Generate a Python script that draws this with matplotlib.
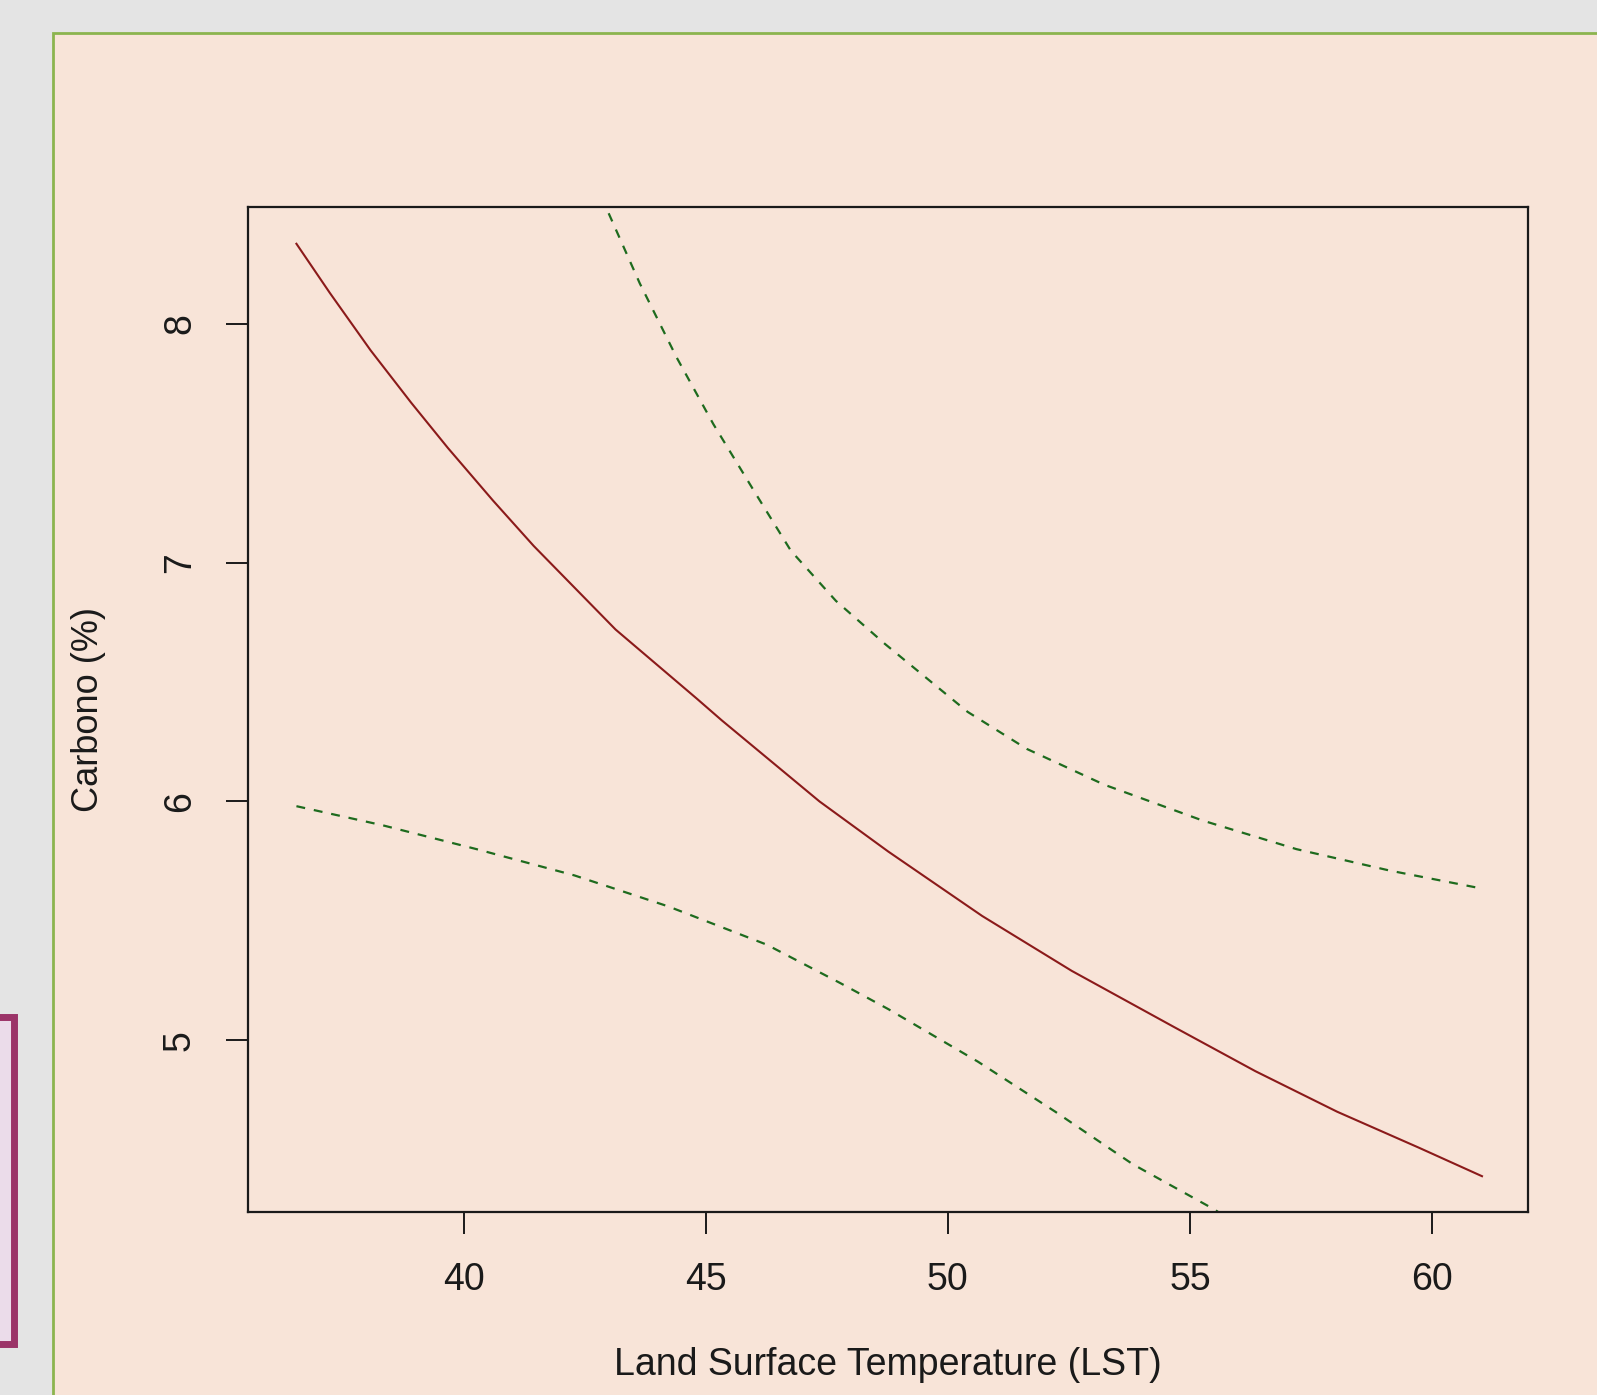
import numpy as np
import matplotlib.pyplot as plt
from matplotlib.patches import Rectangle

plt.rcParams['font.family'] = ['Liberation Sans', 'DejaVu Sans']

# fitted curve
fit_x = [36.55, 37.24, 38.08, 38.92, 39.68, 40.61, 41.45, 43.14, 44.82, 45.33,
         47.35, 48.77, 50.71, 52.56, 54.67, 56.35, 58.04, 59.72, 61.03]
fit_y = [8.336, 8.13, 7.89, 7.67, 7.48, 7.26, 7.07, 6.72, 6.43, 6.34,
         6.00, 5.79, 5.52, 5.29, 5.055, 4.87, 4.70, 4.55, 4.43]

# upper band
up_x = [42.70, 42.97, 43.64, 44.40, 45.16, 46.00, 46.76, 47.69, 48.70, 50.41,
        51.63, 53.23, 55.26, 57.20, 59.13, 60.90]
up_y = [8.60, 8.476, 8.17, 7.86, 7.58, 7.30, 7.05, 6.84, 6.66, 6.375,
        6.22, 6.07, 5.92, 5.80, 5.71, 5.64]

# lower band
lo_x = [36.55, 38.33, 40.27, 42.29, 44.23, 46.26, 47.77, 48.77, 50.62, 52.22,
        53.82, 55.51, 55.80]
lo_y = [5.98, 5.90, 5.80, 5.69, 5.56, 5.40, 5.24, 5.13, 4.91, 4.70,
        4.48, 4.29, 4.25]

x_ticks = [40, 45, 50, 55, 60]
y_ticks = [5, 6, 7, 8]

W, H = 1597, 1395
fig = plt.figure(figsize=(W / 100, H / 100), dpi=100)
fig.patch.set_facecolor('#e4e4e4')

# slide background pieces
bg = fig.add_axes([0, 0, 1, 1])
bg.set_xlim(0, W)
bg.set_ylim(H, 0)
bg.axis('off')
bg.add_patch(Rectangle((53, 33), 1700, 1500, facecolor='#f8e4d8',
                       edgecolor='#8cb44e', linewidth=2))
bg.add_patch(Rectangle((-30, 1017), 44, 327, facecolor='#ebdcea',
                       edgecolor='#9b3468', linewidth=5))

ax = fig.add_axes([248 / W, 1 - 1212 / H, 1280 / W, 1005 / H])
ax.set_facecolor('none')
ax.plot(fit_x, fit_y, color='#8b1a1a', linewidth=1.5)
ax.plot(up_x, up_y, color='#1e6b1e', linewidth=1.6, dashes=(4, 4))
ax.plot(lo_x, lo_y, color='#1e6b1e', linewidth=1.6, dashes=(4, 4))

ax.set_xlim(35.55, 61.98)
ax.set_ylim(4.28, 8.49)
ax.set_xticks(x_ticks)
ax.set_yticks(y_ticks)
ax.set_yticklabels([str(v) for v in y_ticks], rotation=90, va='center')
ax.tick_params(length=16, width=1.4, labelsize=27, pad=20, colors='#1a1a1a')
for s in ax.spines.values():
    s.set_linewidth(1.6)
    s.set_color('#1a1a1a')

ax.set_xlabel('Land Surface Temperature (LST)', fontsize=27, labelpad=35, color='#1a1a1a')
ax.set_ylabel('Carbono (%)', fontsize=26, labelpad=40, color='#1a1a1a')

fig.savefig('out.png', dpi=100)
